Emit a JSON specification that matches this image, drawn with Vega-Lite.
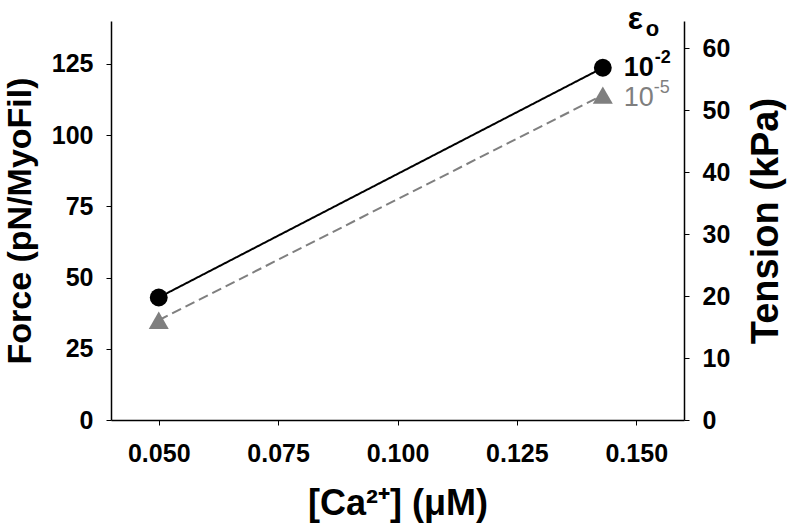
{
  "$schema": "https://vega.github.io/schema/vega-lite/v6.json",
  "width": 573,
  "height": 399,
  "autosize": "none",
  "padding": {"left": 111, "top": 21, "right": 104, "bottom": 110},
  "background": "white",
  "config": {
    "view": {"stroke": null},
    "font": "Liberation Sans",
    "axis": {
      "grid": false,
      "domainColor": "black",
      "domainWidth": 1.5,
      "tickColor": "black",
      "tickWidth": 1,
      "tickSize": 5,
      "labelFont": "Liberation Sans",
      "labelFontWeight": "bold",
      "labelFontSize": 25,
      "labelColor": "black",
      "titleFont": "Liberation Sans",
      "titleFontWeight": "bold",
      "titleColor": "black"
    }
  },
  "datasets": {
    "pts": [
      {"ca": 0.05, "force": 43, "series": "1e-2"},
      {"ca": 0.143, "force": 123.6, "series": "1e-2"},
      {"ca": 0.05, "force": 35, "series": "1e-5"},
      {"ca": 0.143, "force": 114, "series": "1e-5"}
    ],
    "labels": [
      {"ca": 0.143, "force": 123.6, "series": "1e-2", "base": "10", "sup": "-2"},
      {"ca": 0.143, "force": 114, "series": "1e-5", "base": "10", "sup": "-5"}
    ],
    "eps": [
      {"ca": 0.143, "force": 140, "t": "ε", "s": "o"}
    ]
  },
  "layer": [
    {
      "encoding": {
        "x": {"field": "ca", "type": "quantitative",
          "scale": {"domain": [0.04, 0.16], "nice": false, "zero": false},
          "axis": {"values": [0.05, 0.075, 0.1, 0.125, 0.15], "format": ".3f",
            "title": "[Ca²⁺] (μM)", "titleFontSize": 36, "titlePadding": 20, "labelPadding": 16}},
        "y": {"field": "force", "type": "quantitative",
          "scale": {"domain": [0, 140], "nice": false},
          "axis": {"values": [0, 25, 50, 75, 100, 125], "title": "Force  (pN/MyoFil)",
            "titleFontSize": 34, "titlePadding": 14, "labelPadding": 13}}
      },
      "layer": [
        {
          "data": {"name": "pts"},
          "mark": {"type": "line", "strokeWidth": 2},
          "encoding": {
            "color": {"field": "series", "type": "nominal",
              "scale": {"domain": ["1e-2", "1e-5"], "range": ["black", "#7f7f7f"]}, "legend": null},
            "strokeDash": {"field": "series", "type": "nominal",
              "scale": {"domain": ["1e-2", "1e-5"], "range": [[1, 0], [10, 5]]}, "legend": null}
          }
        },
        {
          "data": {"name": "pts"},
          "mark": {"type": "point", "filled": true, "opacity": 1},
          "encoding": {
            "color": {"field": "series", "type": "nominal", "legend": null},
            "shape": {"field": "series", "type": "nominal",
              "scale": {"domain": ["1e-2", "1e-5"], "range": ["circle", "triangle-up"]}, "legend": null},
            "size": {"field": "series", "type": "nominal",
              "scale": {"domain": ["1e-2", "1e-5"], "range": [320, 400]}, "legend": null}
          }
        },
        {
          "data": {"name": "labels"},
          "transform": [{"filter": "datum.series === '1e-2'"}],
          "mark": {"type": "text", "align": "left", "baseline": "middle", "dx": 21, "fontSize": 27, "fontWeight": "bold", "color": "black"},
          "encoding": {"text": {"field": "base"}}
        },
        {
          "data": {"name": "labels"},
          "transform": [{"filter": "datum.series === '1e-2'"}],
          "mark": {"type": "text", "align": "left", "baseline": "middle", "dx": 52, "dy": -10, "fontSize": 18, "fontWeight": "bold", "color": "black"},
          "encoding": {"text": {"field": "sup"}}
        },
        {
          "data": {"name": "labels"},
          "transform": [{"filter": "datum.series === '1e-5'"}],
          "mark": {"type": "text", "align": "left", "baseline": "middle", "dx": 21, "dy": 3, "fontSize": 27, "fontWeight": "normal", "color": "#7f7f7f"},
          "encoding": {"text": {"field": "base"}}
        },
        {
          "data": {"name": "labels"},
          "transform": [{"filter": "datum.series === '1e-5'"}],
          "mark": {"type": "text", "align": "left", "baseline": "middle", "dx": 51, "dy": -7, "fontSize": 18, "fontWeight": "normal", "color": "#7f7f7f"},
          "encoding": {"text": {"field": "sup"}}
        },
        {
          "data": {"name": "eps"},
          "mark": {"type": "text", "align": "left", "baseline": "middle", "dx": 25, "dy": -2, "fontSize": 32, "fontWeight": "bold", "color": "black"},
          "encoding": {"text": {"field": "t"}}
        },
        {
          "data": {"name": "eps"},
          "mark": {"type": "text", "align": "left", "baseline": "middle", "dx": 43, "dy": 8, "fontSize": 22, "fontWeight": "bold", "color": "black"},
          "encoding": {"text": {"field": "s"}}
        }
      ]
    },
    {
      "data": {"values": [{"tension": 0}]},
      "mark": {"type": "rule", "opacity": 0},
      "encoding": {
        "y": {"field": "tension", "type": "quantitative",
          "scale": {"domain": [0, 64.4], "nice": false},
          "axis": {"orient": "right", "values": [0, 10, 20, 30, 40, 50, 60],
            "title": "Tension (kPa)", "titleFontSize": 38, "titleAngle": 270, "titleBaseline": "top",
            "titlePadding": 18, "labelPadding": 13}}
      }
    }
  ],
  "resolve": {"scale": {"y": "independent"}}
}
